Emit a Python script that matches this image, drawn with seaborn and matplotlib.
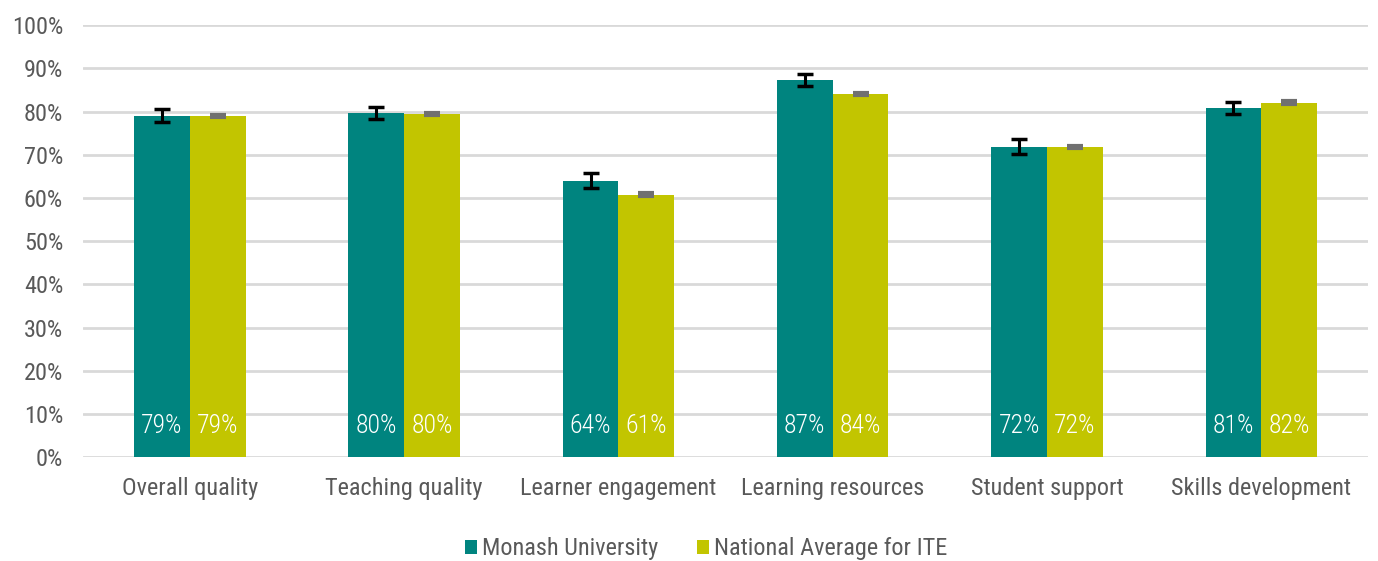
import seaborn as sns
import matplotlib.pyplot as plt
import pandas as pd

# Data
categories = ["Overall quality", "Teaching quality", "Learner engagement",
              "Learning resources", "Student support", "Skills development"]
monash = [79.1, 79.7, 64.0, 87.3, 71.9, 80.9]
national = [79.0, 79.5, 60.8, 84.1, 71.8, 82.1]
monash_err = [1.5, 1.4, 1.7, 1.3, 1.8, 1.4]
national_err = [0.3, 0.3, 0.3, 0.3, 0.3, 0.3]
monash_labels = ["79%", "80%", "64%", "87%", "72%", "81%"]
national_labels = ["79%", "80%", "61%", "84%", "72%", "82%"]
series = ["Monash University", "National Average for ITE"]
colors = ["#00847F", "#C2C500"]

df = pd.DataFrame({
    "category": categories * 2,
    "value": monash + national,
    "series": [series[0]] * 6 + [series[1]] * 6,
})

sns.set_style("white")
plt.rcParams["font.family"] = ["Roboto Condensed", "Liberation Sans Narrow",
                               "Roboto", "DejaVu Sans"]

fig, ax = plt.subplots(figsize=(13.78, 5.61), dpi=100)
sns.barplot(data=df, x="category", y="value", hue="series", palette=colors,
            width=0.52, gap=0, ax=ax, saturation=1, errorbar=None, linewidth=0)

# error bars and value labels
errs = [monash_err, national_err]
labels = [monash_labels, national_labels]
bar_conts = list(ax.containers)
for i, cont in enumerate(bar_conts):
    xs = [p.get_x() + p.get_width() / 2 for p in cont.patches]
    ys = [p.get_height() for p in cont.patches]
    if i == 0:
        ax.errorbar(xs, ys, yerr=errs[i], fmt="none", ecolor="black",
                    elinewidth=2.2, capsize=6, capthick=2.5, zorder=5)
    else:
        ax.errorbar(xs, ys, yerr=errs[i], fmt="none", ecolor="#707070",
                    elinewidth=3, capsize=6, capthick=3, zorder=5)
    for x, lab in zip(xs, labels[i]):
        ax.text(x, 7.3, lab, ha="center", va="center", color="white",
                fontsize=18.5, fontweight="light")

ax.set_ylim(0, 100)
ax.set_yticks(range(0, 101, 10))
ax.set_yticklabels([f"{v}%" for v in range(0, 101, 10)])
ax.yaxis.grid(True, color="#D9D9D9", linewidth=2)
ax.set_axisbelow(True)
for s in ax.spines.values():
    s.set_visible(False)
ax.tick_params(axis="y", length=0, labelsize=17.5, labelcolor="#595959", pad=14)
ax.tick_params(axis="x", length=0, labelsize=17.5, labelcolor="#595959", pad=14)
ax.set_xlabel("")
ax.set_ylabel("")
ax.set_xlim(-0.5, 5.5)

ax.legend(loc="upper center", bbox_to_anchor=(0.485, -0.135), ncol=2, frameon=False,
          fontsize=17.5, labelcolor="#595959", handlelength=0.5, handleheight=0.5,
          handletextpad=0.2, columnspacing=1.6)

plt.subplots_adjust(left=0.06, right=0.993, top=0.955, bottom=0.185)
plt.savefig("out.png")
